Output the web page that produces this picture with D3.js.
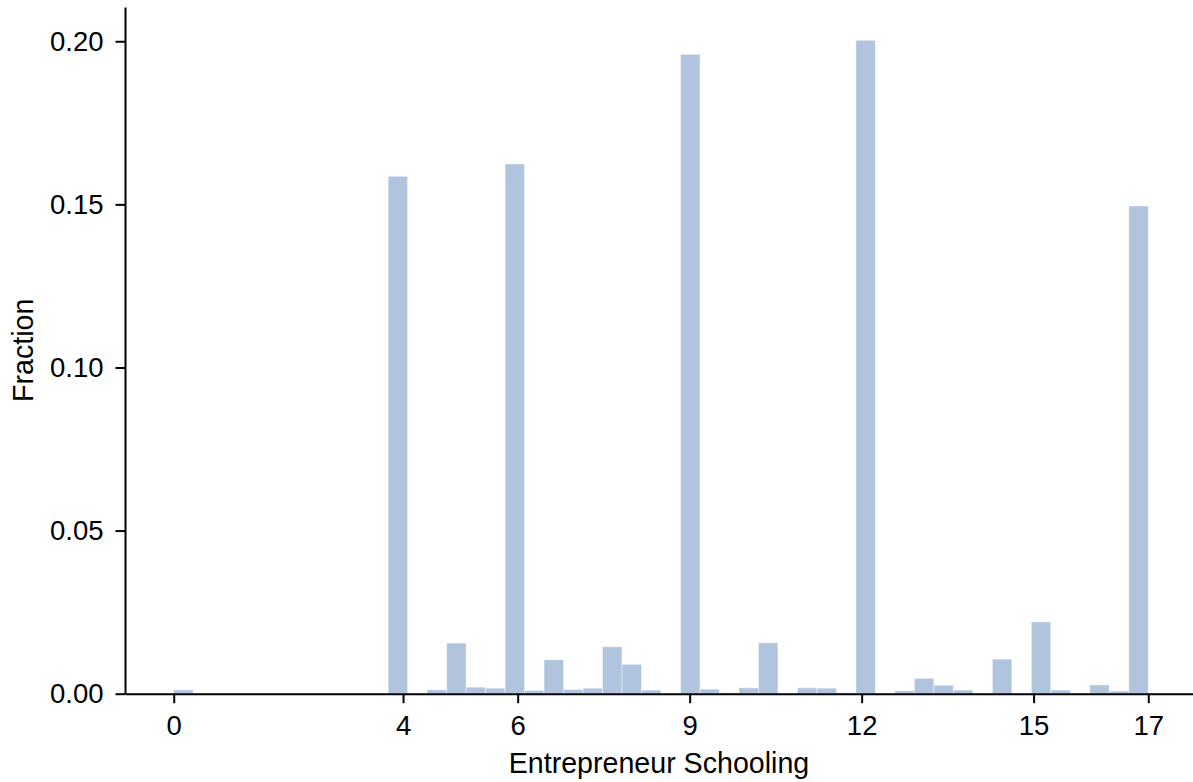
<!DOCTYPE html>
<meta charset="utf-8">
<style>

body {
  margin: 0;
  background: #fff;
  font-family: "Liberation Sans", Arial, sans-serif;
}

.bar {
  fill: #b0c4de;
  stroke: #fff;
  stroke-opacity: 0.45;
  stroke-width: 1;
}

.axis path,
.axis line {
  stroke: #000;
  stroke-width: 2;
}

.axis text {
  font-family: "Liberation Sans", Arial, sans-serif;
  font-size: 27.5px;
  fill: #000;
}

.label {
  font-size: 28.6px;
  fill: #000;
}

</style>
<body>
<script src="https://d3js.org/d3.v7.min.js"></script>
<script>

// histogram: 50 equal bins between 0 and 17
var binStart = 0,
    binEnd = 17,
    binCount = 50;

var fractions = [
  0.0012, 0, 0, 0, 0, 0, 0, 0, 0, 0,
  0, 0.1586, 0, 0.0012, 0.0155, 0.0020, 0.0017, 0.1624, 0.0010, 0.0104,
  0.0013, 0.0017, 0.0144, 0.0090, 0.0011, 0, 0.1960, 0.0014, 0.0003, 0.0018,
  0.0156, 0, 0.0018, 0.0017, 0.0003, 0.2003, 0, 0.0009, 0.0047, 0.0026,
  0.0011, 0, 0.0106, 0, 0.0220, 0.0011, 0, 0.0027, 0.0008, 0.1495
];

var xTicks = [0, 4, 6, 9, 12, 15, 17];
var yTicks = [0, 0.05, 0.10, 0.15, 0.20];

var xLabel = "Entrepreneur Schooling",
    yLabel = "Fraction";

var width = 1193,
    height = 782,
    plot = {left: 125, right: 1197, top: 7, bottom: 693.7};

var svg = d3.select("body").append("svg")
    .attr("width", width)
    .attr("height", height);

var binWidth = (binEnd - binStart) / binCount;

var bins = fractions.map(function(f, i) {
  return {x0: binStart + i * binWidth, x1: binStart + (i + 1) * binWidth, value: f};
});

var x = d3.scaleLinear()
    .domain([-0.85, 17.85])
    .range([plot.left, plot.right]);

var y = d3.scaleLinear()
    .domain([0, 0.2105])
    .range([plot.bottom, plot.top]);

svg.selectAll(".bar")
    .data(bins.filter(function(d) { return d.value > 0; }))
  .enter().append("rect")
    .attr("class", "bar")
    .attr("x", function(d) { return x(d.x0); })
    .attr("width", function(d) { return x(d.x1) - x(d.x0); })
    .attr("y", function(d) { return y(d.value); })
    .attr("height", function(d) { return y(0) - y(d.value); });

svg.append("g")
    .attr("class", "x axis")
    .attr("transform", "translate(0," + plot.bottom + ")")
    .call(d3.axisBottom(x)
      .tickValues(xTicks)
      .tickFormat(d3.format("d"))
      .tickSizeInner(9.5)
      .tickSizeOuter(0)
      .tickPadding(12.5));

svg.append("g")
    .attr("class", "y axis")
    .attr("transform", "translate(" + plot.left + ",0)")
    .call(d3.axisLeft(y)
      .tickValues(yTicks)
      .tickFormat(d3.format(".2f"))
      .tickSizeInner(9.5)
      .tickSizeOuter(0)
      .tickPadding(12));

svg.append("text")
    .attr("class", "label")
    .attr("x", (plot.left + width) / 2)
    .attr("y", 773)
    .attr("text-anchor", "middle")
    .text(xLabel);

svg.append("text")
    .attr("class", "label")
    .attr("text-anchor", "middle")
    .attr("transform", "translate(33," + (plot.top + plot.bottom) / 2 + ") rotate(-90)")
    .text(yLabel);

</script>
